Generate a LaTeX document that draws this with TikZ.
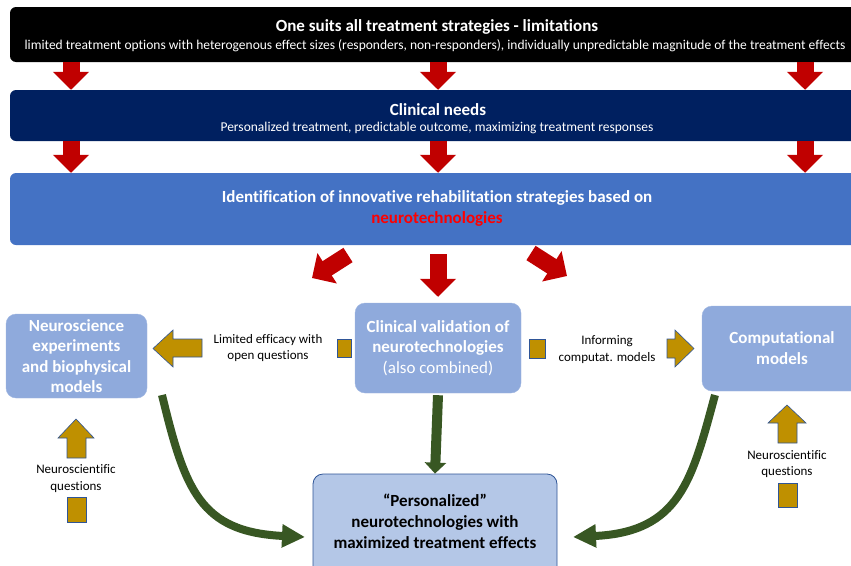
\documentclass[tikz,border=0pt]{standalone}
\usepackage{fontspec}
\setmainfont{Carlito}[Ligatures=CommonOff]
\usetikzlibrary{arrows.meta}
\definecolor{navy}{RGB}{0,32,96}
\definecolor{midblue}{RGB}{68,114,196}
\definecolor{lblue}{RGB}{143,170,220}
\definecolor{pblue}{RGB}{180,199,231}
\definecolor{edgeblue}{RGB}{47,85,151}
\definecolor{darkred}{RGB}{192,0,0}
\definecolor{gold}{RGB}{191,144,0}
\definecolor{dgreen}{RGB}{56,87,35}
\definecolor{brightred}{RGB}{255,0,0}
\tikzset{
  bigbox/.style={rounded corners=6pt, inner sep=0pt, draw=none},
  lbox/.style={rounded corners=10pt, fill=lblue, draw=lblue!85!white, text=white,
     font=\bfseries\fontsize{17}{20.5}\selectfont, align=center, inner sep=0pt},
  pbox/.style={rounded corners=10pt, fill=pblue, draw=edgeblue, line width=0.8pt, text=black,
     font=\bfseries\fontsize{17}{21}\selectfont, align=center, inner sep=0pt},
  titletxt/.style={text=white, font=\bfseries\fontsize{17}{20}\selectfont, inner sep=0pt},
  subtxt/.style={text=white, font=\fontsize{13.5}{16}\selectfont, inner sep=0pt},
  lbl/.style={font=\fontsize{13}{16.5}\selectfont, align=center, text=black, inner sep=0pt},
  redarr/.style={draw=darkred, line width=17pt, -{Triangle[width=35pt,length=18pt]}, darkred},
  greenarr/.style={draw=dgreen, line width=8pt, -{Triangle[width=22pt,length=23pt]}, dgreen},
  greenstraight/.style={draw=dgreen, line width=10pt, -{Triangle[width=21pt,length=11pt]}, dgreen},
  goldshape/.style={fill=gold, draw=edgeblue, line width=0.6pt},
}
\begin{document}
\begin{tikzpicture}[x=1pt,y=-1pt]
\useasboundingbox (0,0) rectangle (851,565);

% top boxes
\node[bigbox, fill=black, minimum width=856pt, minimum height=55pt] (top) at (438,34.5) {};
\node[titletxt] (toptitle) at (437,27) {One suits all treatment strategies - limitations};
\node[subtxt] (topsub) at (435,46) {limited treatment options with heterogenous effect sizes (responders, non-responders), individually unpredictable magnitude of the treatment effects};

\node[bigbox, fill=navy, minimum width=856pt, minimum height=51pt] (needs) at (438,115.5) {};
\node[titletxt] (needstitle) at (438,110) {Clinical needs};
\node[subtxt] (needssub) at (437,128) {Personalized treatment, predictable outcome, maximizing treatment responses};

\node[bigbox, fill=midblue, minimum width=856pt, minimum height=72pt] (ident) at (438,209) {};
\node[titletxt] (identtitle) at (437,198) {Identification of innovative rehabilitation strategies based on};
\node[titletxt, text=brightred] (identred) at (437,219) {neurotechnologies};

% lower boxes
\node[lbox, minimum width=141pt, minimum height=84pt] (neuro) at (76.5,356) {Neuroscience\\experiments\\and biophysical\\models};
\node[lbox, minimum width=166pt, minimum height=90pt] (clin) at (438,348) {Clinical validation of\\neurotechnologies\\\mdseries (also combined)};
\node[lbox, minimum width=168pt, minimum height=85pt] (comp) at (786,348.5) {};
\node[lbox, fill=none, draw=none] (comptext) at (782,348) {Computational\\models};
\node[pbox, minimum width=244pt, minimum height=106pt] (pers) at (435,527) {};
\node[pbox, fill=none, draw=none] (perstext) at (435,521) {“Personalized”\\neurotechnologies with\\maximized treatment effects};

% red arrows between top boxes
\foreach \xx/\nm in {71/a,438/b,805/c} {
  \coordinate (r\nm) at (\xx,0);
  \draw[redarr] (top.south -| r\nm) -- (needs.north -| r\nm);
  \draw[redarr] (needs.south -| r\nm) -- (ident.north -| r\nm);
}
% red arrows from ident
\coordinate (dl0) at (348,255);
\coordinate (dl1) at (312,278);
\coordinate (dr0) at (531,253);
\coordinate (dr1) at (567,276);
\draw[redarr] (dl0) -- (dl1);
\draw[redarr] (dr0) -- (dr1);
\draw[redarr, shorten <=9pt, shorten >=6pt] (ident.south -| clin.north) -- (clin.north);

% gold arrows
\filldraw[goldshape] (202,339) -- (173,339) -- (173,330) -- (153,348.5) -- (173,367) -- (173,357) -- (202,357) -- cycle;
\filldraw[goldshape] (337,339) rectangle (351,357);
\filldraw[goldshape] (667,339) -- (675,339) -- (675,330) -- (694,348.5) -- (675,367) -- (675,358) -- (667,358) -- cycle;
\filldraw[goldshape] (529,339) rectangle (545,358);
\filldraw[goldshape] (67,458) -- (67,438) -- (58,438) -- (76,419) -- (94,438) -- (86,438) -- (86,458) -- cycle;
\filldraw[goldshape] (67,497) rectangle (86,522);
\filldraw[goldshape] (778,443) -- (778,423) -- (768,423) -- (787,405) -- (806,423) -- (797,423) -- (797,443) -- cycle;
\filldraw[goldshape] (778,483) rectangle (797,507);

% labels
\node[lbl] (l1) at (268,348) {Limited efficacy with\\open questions};
\node[lbl] (l2) at (607,349.5) {Informing\\computat. models};
\node[lbl] (l3) at (76,478.5) {Neuroscientific\\questions};
\node[lbl] (l4) at (787,464) {Neuroscientific\\questions};

% green arrows
\draw[greenstraight] ([yshift=-2pt]clin.south) -- (pers.north);
\coordinate (gl0) at (162,395);
\coordinate (gl1) at (305,537);
\coordinate (gr0) at (715,395);
\coordinate (gr1) at (573,537);
\draw[greenarr] (gl0) .. controls (185,490) and (200,532) .. (gl1);
\draw[greenarr] (gr0) .. controls (692,480) and (680,532) .. (gr1);
\end{tikzpicture}
\end{document}
